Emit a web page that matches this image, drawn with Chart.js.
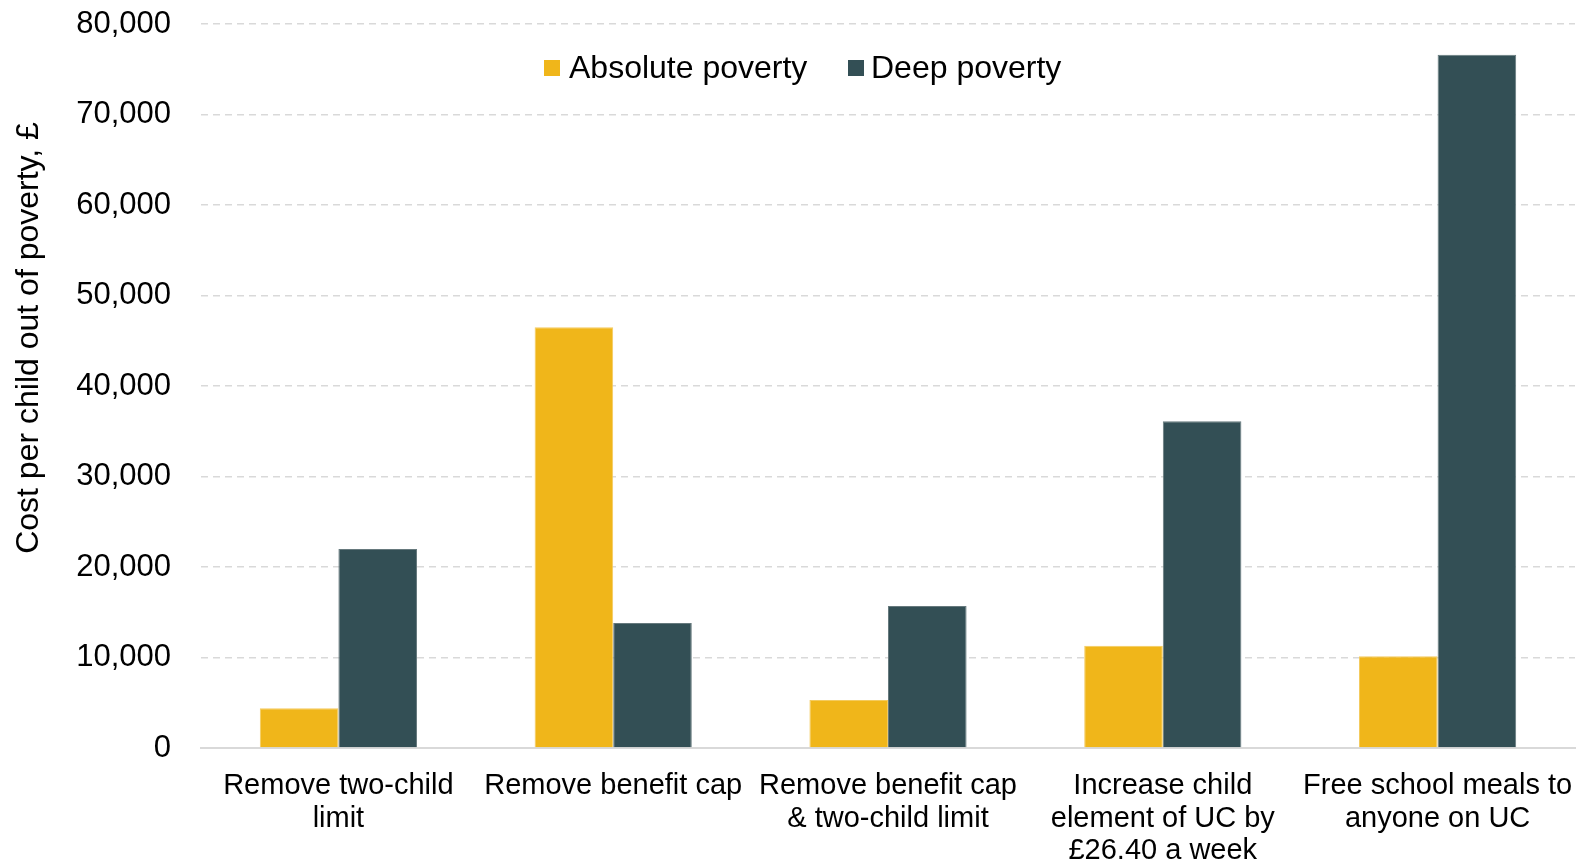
<!DOCTYPE html>
<html>
<head>
<meta charset="utf-8">
<title>Cost per child out of poverty</title>
<script src="https://cdn.jsdelivr.net/npm/chart.js@4/dist/chart.umd.min.js"></script>
<style>
  html, body { margin: 0; padding: 0; background: #ffffff; }
  #wrap { width: 1587px; height: 864px; position: relative; }
</style>
</head>
<body>
<div id="wrap"><canvas id="chart" width="1587" height="864"></canvas></div>
<script>
// Policy options (multi-line category labels)
const categories = [
  ["Remove two-child", "limit"],
  ["Remove benefit cap"],
  ["Remove benefit cap", "& two-child limit"],
  ["Increase child", "element of UC by", "£26.40 a week"],
  ["Free school meals to", "anyone on UC"]
];

// Cost per child moved out of poverty, £
const absolutePoverty = [4400, 46500, 5300, 11300, 10150];
const deepPoverty     = [22000, 13800, 15700, 36100, 76600];

// Value axis
const yMin = 0;
const yMax = 80000;
const yStep = 10000;

const seriesNames = ["Absolute poverty", "Deep poverty"];
const yTitle = "Cost per child out of poverty, £";

const FONT = "'Liberation Sans', Arial, sans-serif";
const YELLOW = "#F0B61A";
const TEAL = "#334F55";
const GRID = "#d9d9d9";

// Legend and rotated axis title drawn on top of the canvas
const overlay = {
  id: "overlay",
  afterDraw(chart) {
    const ctx = chart.ctx;
    ctx.save();
    // legend
    const boxX = [544, 848];
    const textX = [569, 871];
    ctx.font = "32px " + FONT;
    ctx.textBaseline = "middle";
    ctx.textAlign = "left";
    chart.data.datasets.forEach((ds, i) => {
      ctx.fillStyle = ds.backgroundColor;
      ctx.fillRect(boxX[i], 60, 16, 16);
      ctx.fillStyle = "#000000";
      ctx.fillText(ds.label, textX[i], 69);
    });
    // y-axis title
    ctx.translate(29, 338);
    ctx.rotate(-Math.PI / 2);
    ctx.textAlign = "center";
    ctx.textBaseline = "middle";
    ctx.font = "32px " + FONT;
    ctx.fillStyle = "#000000";
    ctx.fillText(yTitle, 0, 0);
    ctx.restore();
  }
};

new Chart(document.getElementById("chart"), {
  type: "bar",
  data: {
    labels: categories,
    datasets: [
      {
        label: seriesNames[0],
        data: absolutePoverty,
        backgroundColor: YELLOW,
        borderColor: "#F4CB5E",
        borderWidth: 1,
        categoryPercentage: 0.572,
        barPercentage: 1.0
      },
      {
        label: seriesNames[1],
        data: deepPoverty,
        backgroundColor: TEAL,
        borderColor: "#66797D",
        borderWidth: 1,
        categoryPercentage: 0.572,
        barPercentage: 1.0
      }
    ]
  },
  options: {
    responsive: false,
    animation: false,
    devicePixelRatio: 1,
    layout: { padding: { top: 24, right: 12, left: 0, bottom: 0 } },
    plugins: {
      legend: { display: false },
      tooltip: { enabled: false }
    },
    scales: {
      x: {
        grid: { display: false, drawTicks: false },
        border: { display: true, color: GRID, width: 2 },
        ticks: {
          color: "#000000",
          font: { family: FONT, size: 29, lineHeight: 1.12 },
          maxRotation: 0,
          autoSkip: false,
          padding: 22
        },
        afterFit(scale) {
          scale.height = 116;
          scale.paddingLeft = 0;
          scale.paddingRight = 0;
        }
      },
      y: {
        min: yMin,
        max: yMax,
        grid: {
          drawTicks: false,
          lineWidth: 1.5,
          color: (c) => (c.tick && c.tick.value === 0 ? "rgba(0,0,0,0)" : GRID)
        },
        border: { display: false, dash: [7, 5] },
        ticks: {
          stepSize: yStep,
          color: "#000000",
          font: { family: FONT, size: 31 },
          padding: 30,
          callback: (v) => Number(v).toLocaleString("en-GB")
        },
        afterFit(scale) {
          scale.width = 201;
          scale.paddingTop = 0;
          scale.paddingBottom = 0;
        }
      }
    }
  },
  plugins: [overlay]
});
</script>
</body>
</html>
